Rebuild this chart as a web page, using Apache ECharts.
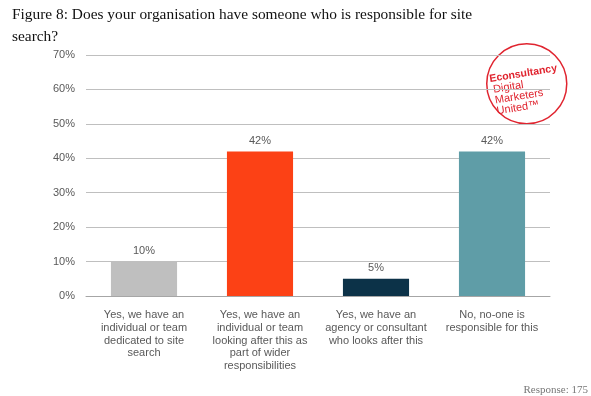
<!DOCTYPE html>
<html>
<head>
<meta charset="utf-8">
<script src="https://cdn.jsdelivr.net/npm/echarts@6/dist/echarts.min.js"></script>
<style>
  html, body { margin: 0; padding: 0; background: #fff; }
  #chart { width: 591px; height: 396px; }
</style>
</head>
<body>
<div id="chart"></div>
<script>
const categories = [
  "Yes, we have an\nindividual or team\ndedicated to site\nsearch",
  "Yes, we have an\nindividual or team\nlooking after this as\npart of wider\nresponsibilities",
  "Yes, we have an\nagency or consultant\nwho looks after this",
  "No, no-one is\nresponsible for this"
];
const values = [10, 42, 5, 42];
const barColors = ["#bfbfbf", "#fc4115", "#0c3248", "#5f9da7"];

const chart = echarts.init(document.getElementById("chart"));
const textGray = "#595959";

chart.setOption({
  animation: false,
  title: {
    text: "Figure 8: Does your organisation have someone who is responsible for site\nsearch?",
    left: 12,
    top: 4,
    padding: 0,
    textStyle: {
      fontFamily: "Liberation Serif",
      fontWeight: "normal",
      fontSize: 15.4,
      lineHeight: 22,
      color: "#111"
    }
  },
  grid: { left: 86, right: 41, top: 55, bottom: 100 },
  xAxis: {
    type: "category",
    data: categories,
    axisLine: { lineStyle: { color: "#a6a6a6" } },
    axisTick: { show: false },
    axisLabel: {
      interval: 0,
      color: textGray,
      fontFamily: "Liberation Sans",
      fontSize: 11,
      lineHeight: 12.7,
      margin: 13
    }
  },
  yAxis: {
    type: "value",
    min: 0,
    max: 70,
    interval: 10,
    axisLine: { show: false },
    axisTick: { show: false },
    splitLine: { lineStyle: { color: "#bfbfbf", width: 1 } },
    axisLabel: {
      formatter: "{value}%",
      color: textGray,
      fontFamily: "Liberation Sans",
      fontSize: 11,
      margin: 11
    }
  },
  series: [{
    type: "bar",
    barWidth: "57%",
    data: values.map((v, i) => ({ value: v, itemStyle: { color: barColors[i] } })),
    label: {
      show: true,
      position: "top",
      formatter: "{c}%",
      color: textGray,
      fontFamily: "Liberation Sans",
      fontSize: 11,
      distance: 5
    }
  }],
  graphic: [
    {
      type: "group",
      left: 486,
      top: 43,
      children: [
        {
          type: "circle",
          shape: { cx: 42, cy: 41, r: 40 },
          style: { fill: "#fff", stroke: "#e0242f", lineWidth: 1.5 }
        },
        {
          type: "group",
          x: 42,
          y: 41,
          rotation: 0.16,
          children: [
            { type: "text", x: -36, y: -16, style: { text: "Econsultancy", fill: "#e0242f", font: "bold 10.5px Liberation Sans" } },
            { type: "text", x: -34, y: -5, style: { text: "Digital", fill: "#e0242f", font: "11px Liberation Sans" } },
            { type: "text", x: -34, y: 6, style: { text: "Marketers", fill: "#e0242f", font: "11px Liberation Sans" } },
            { type: "text", x: -34, y: 17, style: { text: "United\u2122", fill: "#e0242f", font: "11px Liberation Sans" } }
          ]
        }
      ]
    },
    {
      type: "text",
      right: 3,
      bottom: 0,
      style: { text: "Response: 175", fill: "#777", font: "11px Liberation Serif" }
    }
  ]
});
</script>
</body>
</html>
